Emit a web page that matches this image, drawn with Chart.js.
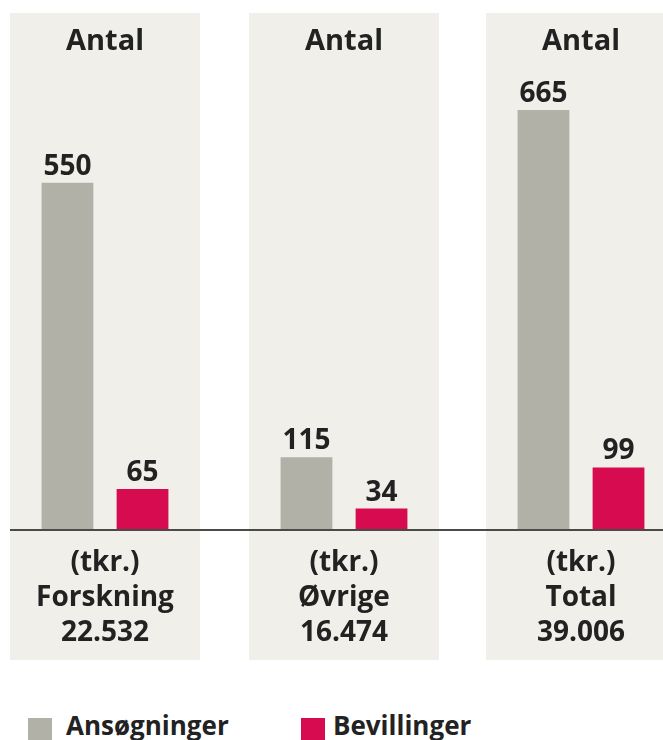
<!DOCTYPE html>
<html>
<head>
<meta charset="utf-8">
<script src="https://cdn.jsdelivr.net/npm/chart.js@4.4.1/dist/chart.umd.min.js"></script>
<style>
  html, body { margin: 0; padding: 0; background: #ffffff; }
  body { width: 663px; height: 740px; overflow: hidden; position: relative; font-family: "Open Sans", Lato, sans-serif; }
  .panel { position: absolute; background: #f0efea; }
  .panel canvas { display: block; }
  .baseline { position: absolute; left: 10px; right: 0; top: 529px; height: 1.5px; background: #4a4a48; }
  .leg { position: absolute; top: 712px; font-weight: 700; font-size: 26px; line-height: 26px; color: #222; white-space: nowrap; }
  .sw { position: absolute; top: 718px; width: 24px; height: 24px; }
</style>
</head>
<body>
<div id="p0" class="panel"><canvas id="c0"></canvas></div>
<div id="p1" class="panel"><canvas id="c1"></canvas></div>
<div id="p2" class="panel"><canvas id="c2"></canvas></div>
<div class="baseline"></div>
<div class="sw" style="left:28px;background:#b1b1a8"></div>
<div class="leg" id="leg0" style="left:66px"></div>
<div class="sw" style="left:301px;background:#d70c50"></div>
<div class="leg" id="leg1" style="left:333px"></div>

<script>
// ---- data ----
const panelTitle = 'Antal';
const unitLabel = '(tkr.)';
const categories = ['Forskning', 'Øvrige', 'Total'];
const amounts = ['22.532', '16.474', '39.006'];
const seriesNames = ['Ansøgninger', 'Bevillinger'];
const ansogninger = [550, 115, 665];
const bevillinger = [65, 34, 99];

// ---- layout / style ----
const panelLeft = [10, 249, 486];
const panelWidth = [190, 190, 190];
const panelTop = 13, panelHeight = 647;
const colors = ['#b1b1a8', '#d70c50'];
const textColor = '#222222';
const fontFamily = '"Open Sans", Lato, sans-serif';

document.getElementById('leg0').textContent = seriesNames[0];
document.getElementById('leg1').textContent = seriesNames[1];

const valueLabels = {
  id: 'valueLabels',
  afterDatasetsDraw(chart) {
    const ctx = chart.ctx;
    ctx.save();
    ctx.fillStyle = textColor;
    ctx.font = '700 28px ' + fontFamily;
    ctx.textAlign = 'center';
    ctx.textBaseline = 'alphabetic';
    chart.data.datasets.forEach((ds, di) => {
      chart.getDatasetMeta(di).data.forEach((el, i) => {
        ctx.fillText(String(ds.data[i]), el.x, el.y - 8);
      });
    });
    ctx.restore();
  }
};

categories.forEach((cat, i) => {
  const p = document.getElementById('p' + i);
  p.style.left = panelLeft[i] + 'px';
  p.style.top = panelTop + 'px';
  p.style.width = panelWidth[i] + 'px';
  p.style.height = panelHeight + 'px';
  const cv = document.getElementById('c' + i);
  cv.width = panelWidth[i];
  cv.height = panelHeight;
  cv.style.width = panelWidth[i] + 'px';
  cv.style.height = panelHeight + 'px';

  new Chart(cv, {
    type: 'bar',
    data: {
      labels: [[unitLabel, cat, amounts[i]]],
      datasets: [
        { label: seriesNames[0], data: [ansogninger[i]], backgroundColor: colors[0] },
        { label: seriesNames[1], data: [bevillinger[i]], backgroundColor: colors[1] }
      ]
    },
    options: {
      responsive: false,
      animation: false,
      devicePixelRatio: 1,
      layout: { padding: 0 },
      datasets: { bar: { categoryPercentage: 0.79, barPercentage: 0.69 } },
      plugins: {
        legend: { display: false },
        tooltip: { enabled: false },
        title: {
          display: true,
          text: panelTitle,
          color: textColor,
          font: { family: fontFamily, size: 29, weight: '700', lineHeight: 1.16 },
          padding: { top: 12, bottom: 4 }
        }
      },
      scales: {
        x: {
          grid: { display: false, drawTicks: false },
          border: { display: false },
          ticks: {
            color: textColor,
            padding: 16,
            font: { family: fontFamily, size: 28, weight: '700', lineHeight: 1.25 }
          },
          afterFit(scale) { scale.height = 130; }
        },
        y: {
          display: false,
          min: 0,
          max: 740
        }
      }
    },
    plugins: [valueLabels]
  });
});
</script>
</body>
</html>
